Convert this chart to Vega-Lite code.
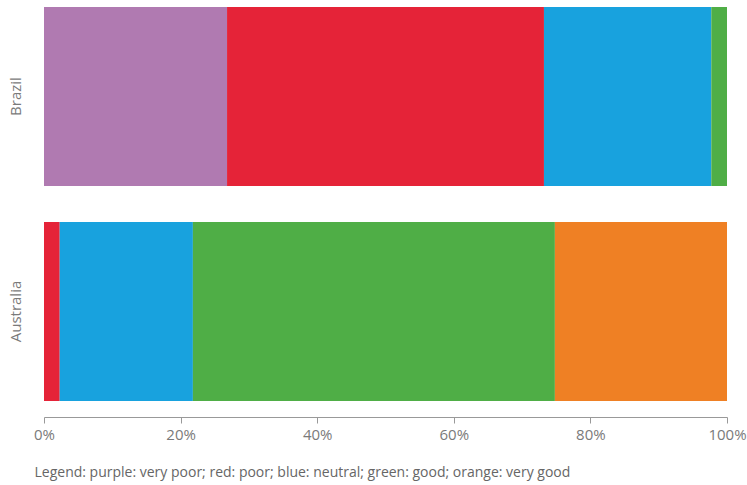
{
  "$schema": "https://vega.github.io/schema/vega-lite/v6.json",
  "width": 683,
  "height": 394,
  "autosize": {"type": "none"},
  "padding": {"left": 44, "top": 7, "right": 20, "bottom": 84},
  "background": "white",
  "config": {
    "view": {"stroke": null},
    "font": "Open Sans"
  },
  "data": {
    "values": [
      {"country": "Brazil", "rating": "very poor", "rank": 1, "share": 0.268},
      {"country": "Brazil", "rating": "poor", "rank": 2, "share": 0.464},
      {"country": "Brazil", "rating": "neutral", "rank": 3, "share": 0.245},
      {"country": "Brazil", "rating": "good", "rank": 4, "share": 0.023},
      {"country": "Australia", "rating": "poor", "rank": 2, "share": 0.023},
      {"country": "Australia", "rating": "neutral", "rank": 3, "share": 0.195},
      {"country": "Australia", "rating": "good", "rank": 4, "share": 0.53},
      {"country": "Australia", "rating": "very good", "rank": 5, "share": 0.252}
    ]
  },
  "mark": {"type": "bar"},
  "encoding": {
    "y": {
      "field": "country",
      "type": "nominal",
      "sort": ["Brazil", "Australia"],
      "scale": {"paddingInner": 0.1674, "paddingOuter": 0},
      "axis": {
        "title": null,
        "domain": false,
        "ticks": false,
        "labelAngle": 270,
        "labelAlign": "center",
        "labelBaseline": "bottom",
        "labelPadding": 21,
        "labelFontSize": 15,
        "labelColor": "#7a7a7a"
      }
    },
    "x": {
      "field": "share",
      "type": "quantitative",
      "stack": "zero",
      "scale": {"domain": [0, 1], "nice": false},
      "axis": {
        "format": ".0%",
        "values": [0, 0.2, 0.4, 0.6, 0.8, 1],
        "grid": false,
        "offset": 16,
        "domainColor": "#999999",
        "tickColor": "#999999",
        "tickSize": 6,
        "labelFontSize": 15,
        "labelColor": "#7a7a7a",
        "labelPadding": 4,
        "labelFlush": false,
        "title": "Legend: purple: very poor; red: poor; blue: neutral; green: good; orange: very good",
        "titleFontSize": 14,
        "titleFontWeight": "normal",
        "titleColor": "#666666",
        "titleAnchor": "start",
        "titleAlign": "left",
        "titleBaseline": "alphabetic",
        "titleX": -10,
        "titleY": 59
      }
    },
    "color": {
      "field": "rating",
      "type": "nominal",
      "scale": {
        "domain": ["very poor", "poor", "neutral", "good", "very good"],
        "range": ["#B07AB1", "#E52338", "#18A2DE", "#4FAE46", "#EF8024"]
      },
      "legend": null
    },
    "order": {"field": "rank", "type": "quantitative"}
  }
}
